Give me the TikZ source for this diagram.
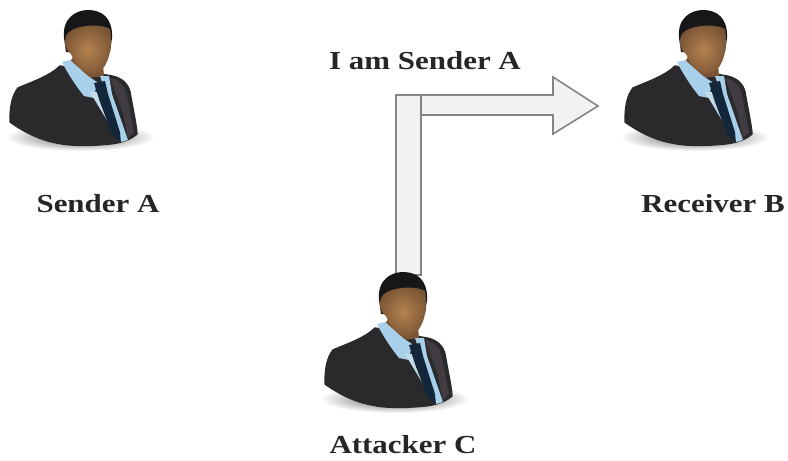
\documentclass[tikz,border=0pt]{standalone}
\usepackage{fontspec}
\setmainfont{Liberation Serif}
\usetikzlibrary{fadings,shadings}
\definecolor{jacket}{HTML}{2A2A2C}
\definecolor{jacketlight}{HTML}{403C42}
\definecolor{shirt}{HTML}{A9D0EA}
\definecolor{shirtpale}{HTML}{C4DCE8}
\definecolor{tiecol}{HTML}{14263A}
\definecolor{skin}{HTML}{7A5535}
\definecolor{skinlight}{HTML}{B5834F}
\definecolor{hair}{HTML}{17171A}
\definecolor{arrowfill}{HTML}{F2F2F2}
\definecolor{arrowline}{HTML}{858585}
\tikzfading[name=softshadow, inner color=transparent!0, outer color=transparent!100]
\tikzset{
  lbl/.style={font=\bfseries\fontsize{26}{26}\selectfont, text=black!85, inner sep=0pt, anchor=center},
  arrowshape/.style={draw=arrowline, fill=arrowfill, line width=1.6pt, line join=miter},
  person/.pic={
    % ground shadow
    \fill[black!65, path fading=softshadow] (80,137) ellipse [x radius=74, y radius=14];
    % jacket
    \fill[jacket, draw=jacket, line width=1.5pt, line join=round]
      (10,122) .. controls (10,106) and (12,96) .. (18,88)
      .. controls (32,82) and (50,76) .. (60,66)
      -- (80,70) -- (100,74) -- (112,76)
      .. controls (122,78) and (128,84) .. (130,92)
      .. controls (133,110) and (136,122) .. (137,134)
      .. controls (130,140) and (120,143) .. (110,144)
      .. controls (90,146) and (70,146) .. (57,143)
      .. controls (40,140) and (24,132) .. (10,122) -- cycle;
    % right jacket panel
    \fill[jacketlight] (110,78) .. controls (120,80) and (125,86) .. (127,96)
      -- (134,132) -- (128,138) -- (122,110) -- cycle;
    % neck
    \fill[skin] (76,52) -- (102,52) -- (104,76) -- (88,78) -- (70,62) -- cycle;
    % shirt, left side of the tie
    \fill[shirt] (62,62) -- (70,60) -- (88,76) -- (97,82) -- (94,98) -- (84,96)
      .. controls (76,86) and (68,74) .. (62,62) -- cycle;
    \fill[shirtpale] (90,92) -- (97,92) -- (126,141) -- (120,142) -- cycle;
    % shirt, right side of the tie
    \fill[shirt] (100,76) -- (109,76) -- (112,94) -- (128,140) -- (122,141) -- cycle;
    % tie
    \fill[tiecol] (94,83) -- (105,81) -- (108,94) -- (120,132) -- (121,143) -- (112,134) -- (100,102) -- cycle;
    % hair
    \fill[hair] (64,38) .. controls (62,18) and (76,10) .. (88,10)
      .. controls (102,10) and (113,18) .. (112,38)
      -- (110,52) -- (66,52) -- cycle;
    % face
    \shade[inner color=skinlight, outer color=skin]
      (67,34) .. controls (74,25) and (100,23) .. (110,29)
      .. controls (113,48) and (109,66) .. (97,74)
      .. controls (86,77) and (76,66) .. (71,54)
      .. controls (65,50) and (63,42) .. (67,34) -- cycle;
  }
}
\begin{document}
\begin{tikzpicture}[x=1pt,y=-1pt]
\useasboundingbox (0,0) rectangle (788,461);
\fill[white] (0,0) rectangle (788,461);
% bent arrow
\path[arrowshape] (396,95) rectangle (421,275);
\path[arrowshape] (421,95) -- (553,95) -- (553,77) -- (598,106) -- (553,134) -- (553,115) -- (421,115) -- cycle;
% people
\pic at (0,0) {person};
\pic at (615,0) {person};
\pic at (315,262) {person};
% labels
\node[lbl] (sender) at (98,204) {\scalebox{1.19}[1]{Sender A}};
\node[lbl] (receiver) at (713,204) {\scalebox{1.19}[1]{Receiver B}};
\node[lbl] (attacker) at (403,445) {\scalebox{1.19}[1]{Attacker C}};
\node[lbl] (message) at (425,61) {\scalebox{1.19}[1]{I am Sender A}};
\end{tikzpicture}
\end{document}
